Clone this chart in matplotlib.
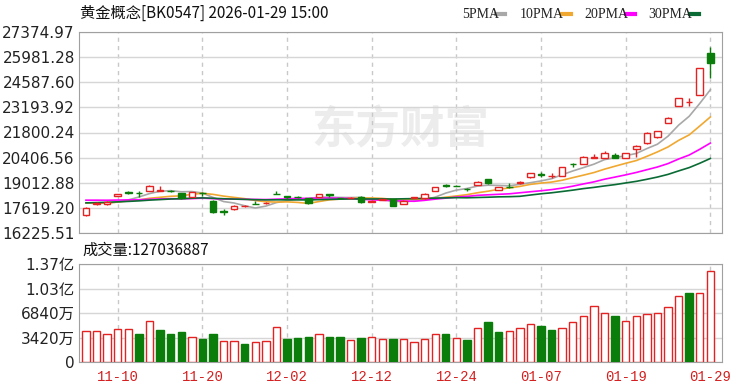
import numpy as np
import matplotlib.pyplot as plt

# trading days shown (2025-11-05 .. 2026-01-29)
dates = ["11-05", "11-06", "11-07", "11-10", "11-11", "11-12", "11-13", "11-14", "11-17", "11-18",
         "11-19", "11-20", "11-21", "11-24", "11-25", "11-26", "11-27", "11-28", "12-01", "12-02",
         "12-03", "12-04", "12-05", "12-08", "12-09", "12-10", "12-11", "12-12", "12-15", "12-16",
         "12-17", "12-18", "12-19", "12-22", "12-23", "12-24", "12-25", "12-26", "12-29", "12-30",
         "12-31", "01-05", "01-06", "01-07", "01-08", "01-09", "01-12", "01-13", "01-14", "01-15",
         "01-16", "01-19", "01-20", "01-21", "01-22", "01-23", "01-26", "01-27", "01-28", "01-29"]
label_dates = ["11-10", "11-20", "12-02", "12-12", "12-24", "01-07", "01-19", "01-29"]

opens = [17224, 17820, 17817, 18280, 18480, 18440, 18555, 18570, 18560, 18430,
         18250, 18470, 18020, 17420, 17570, 17700, 17850, 17880, 18400, 18260,
         18220, 18150, 18240, 18380, 18160, 18150, 18240, 17950, 18060, 18090,
         17830, 18180, 18150, 18560, 18870, 18860, 18650, 18890, 19200, 18610,
         18770, 19010, 19310, 19490, 19370, 19390, 20080, 20050, 20400, 20380,
         20550, 20390, 20870, 21200, 21530, 22320, 23270, 23490, 23880, 26220]
highs = [17667, 17920, 17990, 18390, 18570, 18570, 18880, 18830, 18620, 18460,
         18500, 18490, 18040, 17540, 17760, 17800, 18000, 17930, 18580, 18270,
         18260, 18160, 18410, 18390, 18180, 18200, 18260, 18050, 18130, 18100,
         18030, 18230, 18420, 18780, 18950, 18880, 18700, 19090, 19220, 18800,
         19000, 19120, 19550, 19590, 19530, 19890, 20090, 20480, 20610, 20760,
         20680, 20680, 21100, 21810, 21910, 22660, 23720, 23730, 25390, 26560]
lows = [17168, 17800, 17800, 18260, 18400, 18240, 18540, 18560, 18520, 18120,
        18230, 18280, 17350, 17230, 17520, 17690, 17820, 17860, 18370, 18100,
        18150, 17860, 18220, 18220, 18130, 18140, 17900, 17930, 18040, 17700,
        17810, 18150, 18130, 18540, 18780, 18820, 18560, 18870, 18960, 18590,
        18740, 18930, 19290, 19350, 19260, 19370, 19900, 20030, 20390, 20360,
        20380, 20370, 20450, 21180, 21500, 22300, 23250, 23250, 23860, 24810]
closes = [17612, 17900, 17960, 18370, 18460, 18420, 18850, 18600, 18540, 18150,
          18480, 18450, 17370, 17400, 17740, 17720, 17830, 17900, 18380, 18240,
          18200, 17880, 18390, 18360, 18150, 18180, 17930, 18000, 18110, 17720,
          18010, 18200, 18390, 18750, 18850, 18840, 18640, 19070, 18980, 18780,
          18750, 19040, 19530, 19470, 19400, 19870, 20060, 20460, 20430, 20660,
          20400, 20640, 21050, 21790, 21880, 22620, 23700, 23510, 25360, 25670]
# closes before the visible window, needed for the moving averages
pre_closes = [17450, 17520, 17600, 17680, 17550, 17620, 17700, 17580, 17650, 17650,
              17900, 18050, 18150, 18300, 18250, 18350, 18200, 18280, 18220, 18300,
              18000, 17850, 17900, 17820, 17860, 17950, 18050, 17980, 17908]

volumes = [43300000, 43300000, 39600000, 45600000, 46500000, 39600000, 57200000, 45100000, 39600000, 41400000,
           34900000, 31600000, 39100000, 29300000, 29300000, 25600000, 27900000, 29300000, 48900000, 31600000,
           33500000, 35400000, 39100000, 35400000, 35400000, 30200000, 33500000, 35400000, 31600000, 31600000,
           31600000, 27900000, 31600000, 39100000, 39100000, 33500000, 30200000, 47000000, 55400000, 41400000,
           43300000, 47000000, 53000000, 50700000, 45100000, 47000000, 55400000, 64700000, 78600000, 68900000,
           64700000, 57200000, 64700000, 66500000, 68900000, 76800000, 92100000, 96800000, 96800000, 127036887]
vol_up = [1, 1, 1, 1, 1, 0, 1, 0, 0, 0, 1, 0, 0, 1, 1, 0, 1, 1, 1, 0,
          0, 0, 1, 0, 0, 1, 0, 1, 1, 0, 1, 1, 1, 1, 0, 1, 0, 1, 0, 0,
          1, 1, 1, 0, 0, 1, 1, 1, 1, 1, 0, 1, 1, 1, 1, 1, 1, 0, 1, 1]

price_ticks = ["16225.51", "17619.20", "19012.88", "20406.56", "21800.24",
               "23193.92", "24587.60", "25981.28", "27374.97"]
vol_ticks = [0, 34200000, 68400000, 102600000, 136800000]
vol_tick_labels = ["0", "3420万", "6840万", "1.03亿", "1.37亿"]

ma_periods = [5, 10, 20, 30]
ma_colors = ["#a8a8a8", "#f0a830", "#ff00ff", "#0a6b35"]

RED = "#e52222"
GREEN = "#0a7d0a"
GRID = "#d6d6d6"
FRAME = "#a0a0a0"


def style_axis(ax, xs):
    ax.set_xlim(-0.66, len(xs) + 0.1)
    ax.set_xticks([i for i, d in enumerate(dates) if d in label_dates])
    ax.grid(axis="x", color="#c8c8c8", linestyle=(0, (3, 3)), linewidth=1)
    ax.grid(axis="y", color=GRID, linewidth=1)
    ax.set_axisbelow(True)
    ax.tick_params(length=0, labelsize=11, pad=3, colors="#222222")
    for s in ax.spines.values():
        s.set_color(FRAME)


def main():
    plt.rcParams["font.family"] = ["DejaVu Sans", "Noto Sans CJK SC"]
    fig = plt.figure(figsize=(7.5, 3.91), dpi=100)
    ax = fig.add_axes([79 / 750, 1 - 233 / 391, 643 / 750, 201 / 391])
    axv = fig.add_axes([79 / 750, 1 - 362 / 391, 643 / 750, 98 / 391])

    xs = np.arange(len(closes))
    o = np.array(opens, float)
    h = np.array(highs, float)
    l = np.array(lows, float)
    c = np.array(closes, float)
    up = c >= o

    # moving averages
    allc = np.array(pre_closes + closes, float)
    for n, col in zip(ma_periods, ma_colors):
        ma = np.convolve(allc, np.ones(n) / n, mode="valid")[-len(closes):]
        ax.plot(xs, ma, color=col, linewidth=1.2, zorder=2)

    # candles
    top = np.maximum(o, c)
    bot = np.minimum(o, c)
    cols = [RED if u else GREEN for u in up]
    ax.vlines(xs, top, h, colors=cols, linewidth=1, zorder=3)
    ax.vlines(xs, l, bot, colors=cols, linewidth=1, zorder=3)
    ax.bar(xs, np.maximum(top - bot, 8), bottom=bot, width=0.62,
           facecolor=["white" if u else GREEN for u in up], edgecolor=cols,
           linewidth=1, zorder=4)

    ax.set_ylim(float(price_ticks[0]), float(price_ticks[-1]))
    ax.set_yticks([float(t) for t in price_ticks])
    ax.set_yticklabels(price_ticks)
    style_axis(ax, xs)
    ax.set_xticklabels([])
    ax.text(0.5, 0.51, "东方财富", transform=ax.transAxes, ha="center", va="center",
            fontsize=32, fontweight="bold", color="#ececec", zorder=0,
            family=["Noto Sans CJK SC"])

    # volume
    vcols = [RED if u else GREEN for u in vol_up]
    axv.bar(xs, volumes, width=0.7, facecolor=["white" if u else GREEN for u in vol_up],
            edgecolor=vcols, linewidth=1, zorder=3)
    axv.set_ylim(0, vol_ticks[-1])
    axv.set_yticks(vol_ticks)
    axv.set_yticklabels(vol_tick_labels)
    style_axis(axv, xs)
    axv.set_xticklabels([dates[i] for i in axv.get_xticks().astype(int)],
                        family="Liberation Mono", fontsize=10, color="#d42020")
    axv.tick_params(axis="x", pad=6)

    # header texts
    fig.text(80 / 750, 1 - 13 / 391, "黄金概念[BK0547] 2026-01-29 15:00", fontsize=11,
             va="center", family=["Noto Sans CJK SC", "DejaVu Sans"], color="#111111")
    leg_x = [462, 520, 584, 648]
    for n, col, lx in zip(ma_periods, ma_colors, leg_x):
        t = f"{n}PMA"
        fig.text(lx / 750, 1 - 14 / 391, t, fontsize=10, va="center",
                 family="Liberation Serif", color="#222222")
        sw = lx + 7.5 * len(t) + 4
        fig.add_artist(plt.Line2D([sw / 750, (sw + 9) / 750], [1 - 14 / 391, 1 - 14 / 391],
                                  color=col, linewidth=3, transform=fig.transFigure))
    fig.text(82 / 750, 1 - 250 / 391, f"成交量:{volumes[-1]}", fontsize=11, va="center",
             family=["Noto Sans CJK SC", "DejaVu Sans"], color="#111111")

    fig.savefig("out.png", dpi=100)


if __name__ == "__main__":
    main()
